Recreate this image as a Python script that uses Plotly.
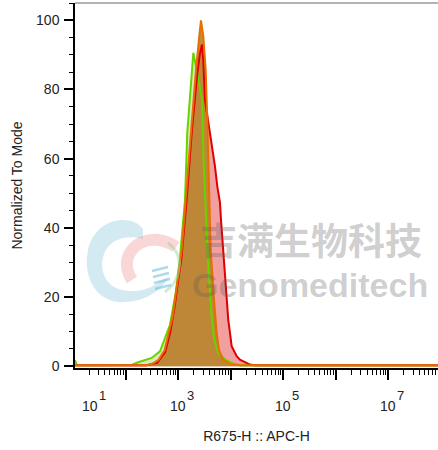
import plotly.graph_objects as go

# ---- data (x in log10 decades of R675-H :: APC-H, y = % of mode) ----
orange_logx = [1.034, 2.40, 2.52, 2.625, 2.739, 2.825, 2.895, 2.939, 2.983, 3.021, 3.067, 3.162,
               3.257, 3.339, 3.402, 3.434, 3.478, 3.524, 3.554, 3.587, 3.619, 3.682, 3.733,
               3.777, 3.853, 3.987, 4.20, 7.95]
orange_y = [0.3, 0.3, 0.8, 1.9, 4.6, 9.7, 14.5, 19.3, 24.2, 28.9, 33.7, 52.0,
            71.3, 85.8, 95.4, 100.0, 95.4, 85.8, 71.3, 52.0, 33.7, 19.3, 9.7,
            4.8, 1.9, 0.6, 0.3, 0.3]

green_logx = [1.034, 1.07, 2.114, 2.21, 2.495, 2.653, 2.844, 2.958, 3.034, 3.086, 3.130, 3.173,
              3.238, 3.288, 3.352, 3.456, 3.482, 3.530, 3.568, 3.634, 3.682, 3.758, 3.891,
              4.044, 4.177, 7.95]
green_y = [1.8, 0.3, 0.4, 1.0, 2.4, 4.3, 12.0, 21.7, 31.3, 41.0, 48.2, 67.5,
           82.0, 90.6, 85.8, 77.0, 60.0, 42.0, 30.0, 15.0, 8.0, 4.0, 2.0,
           0.7, 0.3, 0.3]

red_logx = [1.034, 2.40, 2.60, 2.75, 2.85, 2.93, 3.00, 3.06, 3.16, 3.26, 3.36, 3.41, 3.453,
            3.48, 3.51, 3.606, 3.701, 3.745, 3.796, 3.815, 3.859, 3.910, 3.954, 4.019,
            4.114, 4.177, 4.305, 4.368, 4.45, 7.95]
red_y = [0.3, 0.3, 1.0, 4.0, 10.0, 17.0, 25.0, 31.0, 48.0, 68.0, 84.0, 90.0, 93.0,
         88.0, 77.0, 67.5, 57.8, 52.0, 47.3, 42.4, 32.9, 23.1, 13.5, 5.8,
         2.9, 1.9, 1.0, 0.5, 0.3, 0.3]

x_major_exponents = [1, 2, 3, 4, 5, 6, 7]
x_label_exponents = [1, 3, 5, 7]
y_ticks = [0, 20, 40, 60, 80, 100]

X_RANGE = [1.034, 7.95]
FONT = "Liberation Sans, Arial, sans-serif"

def vals(logx):
    return [10 ** v for v in logx]

fig = go.Figure()

# fills
fills = [
    (red_logx, red_y, "rgba(232,80,80,0.55)"),
    (green_logx, green_y, "rgba(150,190,60,0.35)"),
    (orange_logx, orange_y, "rgba(188,132,50,0.93)"),
]
for lx, yy, fc in fills:
    fig.add_trace(go.Scatter(x=vals(lx), y=yy, mode="lines", line=dict(width=0),
                             fill="tozeroy", fillcolor=fc, hoverinfo="skip",
                             showlegend=False))
# outlines
lines = [
    (green_logx, green_y, "#66d400"),
    (red_logx, red_y, "#e00000"),
    (orange_logx, orange_y, "#e57000"),
]
for lx, yy, lc in lines:
    fig.add_trace(go.Scatter(x=vals(lx), y=yy, mode="lines",
                             line=dict(color=lc, width=2), showlegend=False))

L, R, T, B = 75, 0, 3, 82
W, H = 438, 450
pw, ph = W - L - R, H - T - B

def px(x, y):
    return (x - L) / pw, (H - B - y) / ph

def path(points, cmds, close=False):
    s = ""
    i = 0
    for c, n in cmds:
        s += c
        for _ in range(n):
            xx, yy = px(*points[i])
            s += f" {xx:.4f},{yy:.4f}"
            i += 1
        s += " "
    if close:
        s += "Z"
    return s

shapes = []
# top border
shapes.append(dict(type="line", xref="paper", yref="paper", x0=0, x1=1, y0=1, y1=1,
                   line=dict(color="#9a9a9a", width=1.5)))
# watermark logo (approximate): blue crescent
shapes.append(dict(type="path", xref="paper", yref="paper",
                   path=path([(143, 229),
                              (132, 213), (95, 217), (88, 250),
                              (82, 282), (100, 304), (125, 302),
                              (146, 301), (161, 291), (169, 277),
                              (160, 281),
                              (150, 290), (135, 293), (122, 290),
                              (104, 286), (99, 268), (104, 254),
                              (109, 240), (126, 234), (143, 239)],
                             [("M", 1), ("C", 3), ("C", 3), ("C", 3), ("L", 1),
                              ("C", 3), ("C", 3), ("C", 3)], close=True),
                   fillcolor="rgba(150,205,225,0.42)", line=dict(width=0)))
# pink hook
shapes.append(dict(type="path", xref="paper", yref="paper",
                   path=path([(132, 280), (118, 258), (135, 238), (158, 240), (168, 241), (176, 247)],
                             [("M", 1), ("C", 3), ("Q", 2)]),
                   line=dict(color="rgba(240,140,140,0.35)", width=12)))
shapes.append(dict(type="path", xref="paper", yref="paper",
                   path=path([(168, 243), (185, 255), (182, 280), (165, 292)],
                             [("M", 1), ("C", 3)]),
                   line=dict(color="rgba(150,210,150,0.45)", width=3)))
for k in range(4):
    y0 = 268 + k * 6
    x0 = 152 + k * 1
    xa, ya = px(x0, y0 + 3)
    xb, yb = px(x0 + 16, y0 - 1)
    shapes.append(dict(type="line", xref="paper", yref="paper", x0=xa, y0=ya, x1=xb, y1=yb,
                       line=dict(color="rgba(110,185,220,0.55)", width=2.5)))

annotations = []
for e in x_label_exponents:
    xe = max(e, X_RANGE[0])
    shift = 15 if e == 1 else 0
    annotations.append(dict(x=xe, y=0, xref="x", yref="paper", text="10", showarrow=False,
                            xanchor="center", yanchor="middle", xshift=shift, yshift=-38,
                            font=dict(family=FONT, size=14, color="#222")))
    annotations.append(dict(x=xe, y=0, xref="x", yref="paper", text=str(e), showarrow=False,
                            xanchor="center", yanchor="middle", xshift=shift + 12.5, yshift=-27,
                            font=dict(family=FONT, size=13, color="#222")))
# watermark text
annotations.append(dict(x=px(311, 0)[0], y=px(0, 239)[1], xref="paper", yref="paper",
                        xanchor="center", yanchor="middle",
                        text="<b>吉满生物科技</b>", showarrow=False,
                        font=dict(family="Noto Sans CJK SC", size=37, color="rgba(90,90,90,0.30)")))
annotations.append(dict(x=px(310, 0)[0], y=px(0, 285)[1], xref="paper", yref="paper",
                        xanchor="center", yanchor="middle",
                        text="<b>Genomeditech</b>", showarrow=False,
                        font=dict(family=FONT, size=34, color="rgba(90,90,90,0.30)")))

fig.update_layout(
    width=W, height=H,
    margin=dict(l=L, r=R, t=T, b=B, autoexpand=False),
    paper_bgcolor="white", plot_bgcolor="white",
    font=dict(family=FONT, size=14, color="#222"),
    shapes=shapes, annotations=annotations,
    xaxis=dict(type="log", range=X_RANGE, tickmode="array", automargin=False,
               tickvals=[10 ** e for e in x_major_exponents],
               ticktext=["" for _ in x_major_exponents],
               ticks="outside", ticklen=10, tickwidth=2, tickcolor="black",
               showline=True, linecolor="black", linewidth=1.5, showgrid=False, zeroline=False,
               minor=dict(ticks="outside", ticklen=5, tickwidth=1, tickcolor="black", dtick="D1",
                          showgrid=False),
               title=dict(text="R675-H :: APC-H", standoff=50,
                          font=dict(family=FONT, size=14, color="#222"))),
    yaxis=dict(range=[-0.5, 105], tickmode="array", tickvals=y_ticks, automargin=False,
               ticks="outside", ticklen=9, tickwidth=2, tickcolor="black",
               ticklabelstandoff=2,
               showline=True, linecolor="black", linewidth=1.5, showgrid=False, zeroline=False,
               minor=dict(ticks="outside", ticklen=4, tickwidth=1, tickcolor="black", dtick=5,
                          showgrid=False),
               tickfont=dict(family=FONT, size=14, color="#222"),
               title=dict(text="Normalized To Mode", standoff=10,
                          font=dict(family=FONT, size=14, color="#222"))),
)

fig.write_html("out.html", config={"displayModeBar": False},
               post_script="document.body.style.margin='0';document.body.style.padding='0';")
